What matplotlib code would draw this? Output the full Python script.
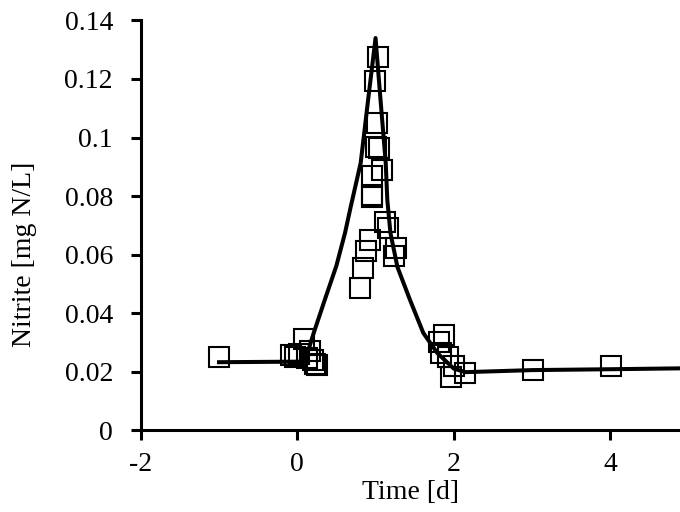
import matplotlib.pyplot as plt

plt.rcParams['font.family'] = ['Liberation Serif', 'DejaVu Serif']
plt.rcParams['axes.unicode_minus'] = False

# measured nitrite
time_obs = [-1.0, -0.08, -0.03, 0.02, 0.08, 0.12, 0.16, 0.20, 0.23, 0.25,
            0.80, 0.84, 0.88, 0.93, 0.96, 0.95, 0.96, 1.08, 1.05, 1.01,
            1.02, 0.99, 1.03, 1.12, 1.16, 1.26, 1.24,
            1.88, 1.81, 1.83, 1.93, 2.00, 1.97, 2.14, 3.01, 4.01]
nitrite_obs = [0.0249, 0.0255, 0.0250, 0.0260, 0.0312, 0.0245, 0.0270, 0.0240, 0.0225, 0.0222,
               0.0484, 0.0555, 0.0613, 0.0650, 0.0797, 0.0805, 0.0869, 0.0889, 0.0964, 0.0967,
               0.1050, 0.1192, 0.1274, 0.0712, 0.0690, 0.0623, 0.0596,
               0.0324, 0.0300, 0.0265, 0.0250, 0.0220, 0.0180, 0.0195, 0.0205, 0.0218]

# simulated nitrite
time_sim = [-1.0, 0.07, 0.13, 0.21, 0.36, 0.50, 0.61, 0.68, 0.81, 0.91, 1.0,
            1.06, 1.13, 1.15, 1.19, 1.28, 1.44, 1.61, 1.79, 2.0, 2.15,
            3.0, 4.0, 4.9]
nitrite_sim = [0.0232, 0.0234, 0.0263, 0.0332, 0.0452, 0.0562, 0.0674, 0.0760, 0.0913, 0.114, 0.134,
               0.114, 0.0913, 0.0787, 0.0674, 0.0557, 0.0445, 0.0332, 0.0263, 0.0210, 0.0198,
               0.0205, 0.0208, 0.0211]

fig = plt.figure(figsize=(6.8, 5.12), dpi=100)
ax = fig.add_axes([0.207, 0.16, 0.793, 0.8])

ax.plot(time_sim, nitrite_sim, color='black', lw=2.9, zorder=3)
ax.plot(time_obs, nitrite_obs, ls='none', marker='s', ms=14, mfc='none',
        mec='black', mew=1.5, zorder=2)

ax.set_xlim(-2, 4.89)
ax.set_ylim(0, 0.14)
ax.set_xticks([-2, 0, 2, 4])
ax.set_yticks([0, 0.02, 0.04, 0.06, 0.08, 0.1, 0.12, 0.14])
ax.set_yticklabels(['0', '0.02', '0.04', '0.06', '0.08', '0.1', '0.12', '0.14'])

for side in ['top', 'right']:
    ax.spines[side].set_visible(False)
for side in ['left', 'bottom']:
    ax.spines[side].set_linewidth(2.2)
ax.tick_params(direction='out', length=7, width=2.2, labelsize=20)
ax.tick_params(axis='x', pad=9)
ax.tick_params(axis='y', pad=13)

ax.set_xlabel('Time [d]', fontsize=20)
ax.set_ylabel('Nitrite [mg N/L]', fontsize=20)
ax.xaxis.set_label_coords(0.5, -0.122)
ax.yaxis.set_label_coords(-0.193, 0.43)

fig.savefig('out.png', dpi=100)
